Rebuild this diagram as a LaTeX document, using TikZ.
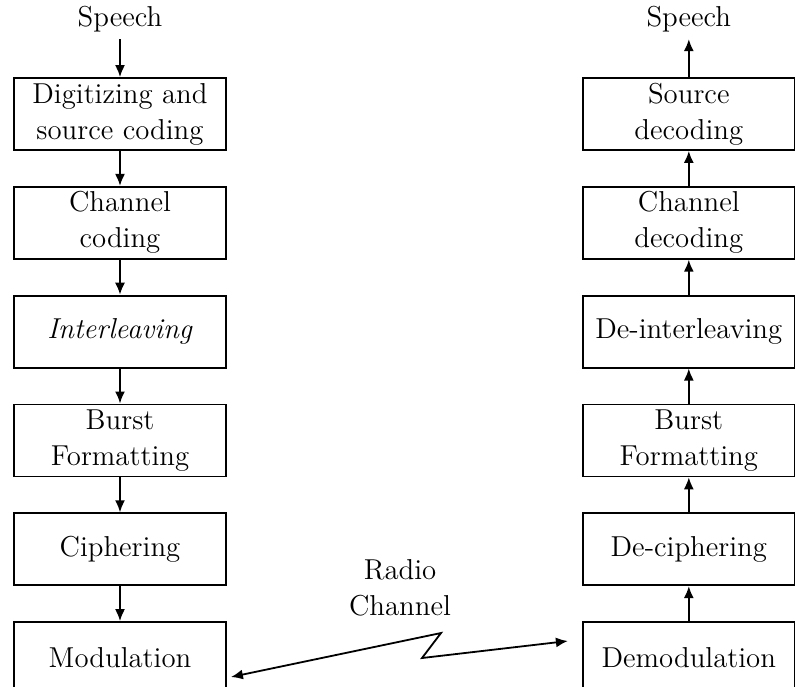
\documentclass[tikz,border=0pt]{standalone}
\usepackage{tikz}
\usetikzlibrary{positioning,arrows.meta}

\begin{document}
\begin{tikzpicture}[x=0.5pt, y=-0.5pt,
    box/.style={draw, line width=0.9pt, align=center, font=\Large, minimum width=106pt, minimum height=36pt, inner xsep=1pt, inner ysep=1pt},
    lbl/.style={font=\Large, align=center},
    arr/.style={-{Latex[length=6pt,width=5pt]}, line width=0.9pt},
    radio/.style={{Latex[length=6pt,width=5pt]}-{Latex[length=6pt,width=5pt]}, line width=0.9pt}
]
\useasboundingbox (0,0) rectangle (795,686);

% transmitter side
\node[box] (dig) at (120,114) {Digitizing and\\source coding};
\node[box, below=17.5pt of dig] (chc) {Channel\\coding};
\node[box, below=17.5pt of chc] (intl) {\textit{Interleaving}};
\node[box, below=17.5pt of intl] (bft) {Burst\\Formatting};
\node[box, below=17.5pt of bft] (ciph) {Ciphering};
\node[box, below=17.5pt of ciph] (mod) {Modulation};
\node[lbl, above=19pt of dig] (spin) {Speech};

% receiver side
\node[box, right=177.5pt of dig] (srcd) {Source\\decoding};
\node[box, below=17.5pt of srcd] (chd) {Channel\\decoding};
\node[box, below=17.5pt of chd] (dintl) {De-interleaving};
\node[box, below=17.5pt of dintl] (bfr) {Burst\\Formatting};
\node[box, below=17.5pt of bfr] (dciph) {De-ciphering};
\node[box, below=17.5pt of dciph] (demod) {Demodulation};
\node[lbl, above=19pt of srcd] (spout) {Speech};

% radio link
\node[lbl, inner sep=0pt, text depth=0pt] (radio) at (400,587) {\baselineskip=15pt Radio\\Channel};
\coordinate (zigA) at (441,633);
\coordinate (zigB) at (422,658);

\draw[arr] (spin) -- (dig);
\draw[arr] (dig) -- (chc);
\draw[arr] (chc) -- (intl);
\draw[arr] (intl) -- (bft);
\draw[arr] (bft) -- (ciph);
\draw[arr] (ciph) -- (mod);

\draw[arr] (demod) -- (dciph);
\draw[arr] (dciph) -- (bfr);
\draw[arr] (bfr) -- (dintl);
\draw[arr] (dintl) -- (chd);
\draw[arr] (chd) -- (srcd);
\draw[arr] (srcd) -- (spout);

\draw[radio] ([xshift=2pt,yshift=-9.5pt]mod.east) -- (zigA) -- (zigB) -- ([xshift=-7pt,yshift=8.5pt]demod.west);
\end{tikzpicture}
\end{document}
